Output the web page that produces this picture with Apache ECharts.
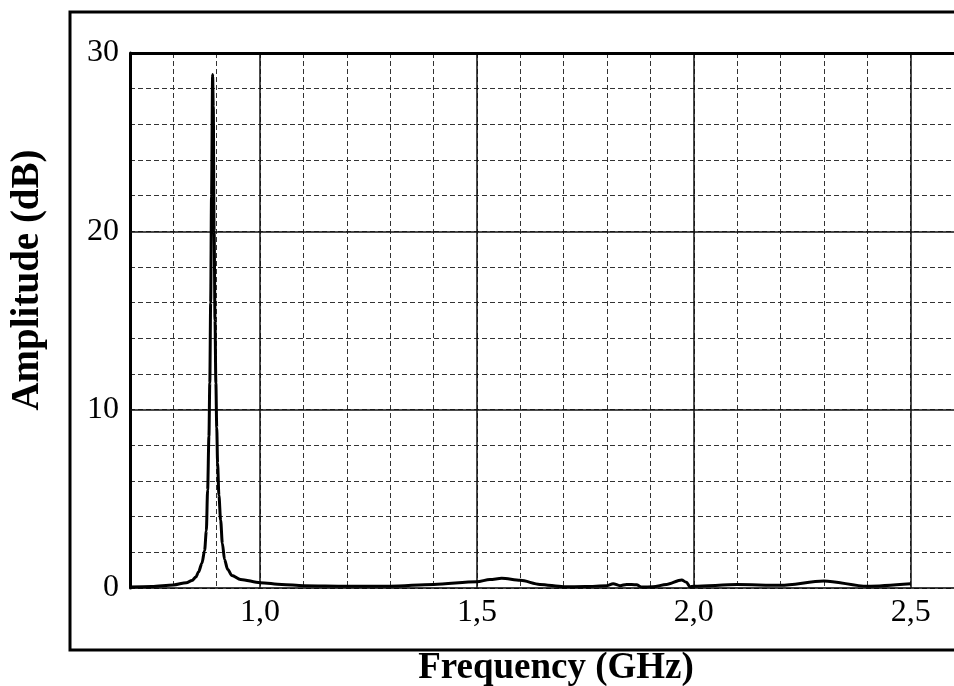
<!DOCTYPE html>
<html>
<head>
<meta charset="utf-8">
<script src="https://cdn.jsdelivr.net/npm/echarts@6/dist/echarts.min.js"></script>
<style>
  html, body { margin: 0; padding: 0; background: #fff; }
  #main { width: 954px; height: 686px; }
</style>
</head>
<body>
<div id="main"></div>
<script>
// values (GHz, dB)
const freq = [
  0.70, 0.75, 0.80, 0.83, 0.843, 0.852, 0.858, 0.866, 0.872, 0.876, 0.879,
  0.882, 0.884, 0.886, 0.888, 0.8905, 0.892, 0.894, 0.896, 0.898, 0.900,
  0.902, 0.905, 0.909, 0.913, 0.918, 0.925, 0.935, 0.955, 1.0, 1.05,
  1.1, 1.2, 1.3, 1.4, 1.5, 1.53, 1.557, 1.6, 1.645, 1.7,
  1.75, 1.8, 1.814, 1.83, 1.845, 1.868, 1.88, 1.906, 1.937, 1.972,
  1.983, 1.991, 2.0, 2.1, 2.2, 2.3, 2.4, 2.5
];
const amp = [
  0.05, 0.08, 0.17, 0.3, 0.42, 0.62, 0.9, 1.4, 2.1, 3.2, 5.5,
  8.5, 11.5, 16, 22, 28.8, 27, 20, 15, 11.5, 9,
  7, 5.2, 3.8, 2.5, 1.6, 1.05, 0.7, 0.48, 0.3, 0.2,
  0.13, 0.1, 0.1, 0.2, 0.35, 0.48, 0.54, 0.43, 0.2, 0.07,
  0.08, 0.13, 0.24, 0.13, 0.2, 0.18, 0.05, 0.07, 0.2, 0.45,
  0.32, 0.07, 0.1, 0.19, 0.15, 0.39, 0.1, 0.24
];
const xLabels = [1.0, 1.5, 2.0, 2.5];
const yLabels = [0, 10, 20, 30];
const majorX = [1.0, 1.5, 2.0, 2.5];
const majorY = [10, 20];

const serif = '"Liberation Serif", "DejaVu Serif", serif';

function isIn(list, v) {
  return list.some(l => Math.abs(l - v) < 1e-6);
}

const chart = echarts.init(document.getElementById('main'));

const option = {
  animation: false,
  backgroundColor: '#fff',
  grid: { left: 130, top: 53, right: 0, bottom: 98, containLabel: false, outerBoundsMode: 'none' },
  xAxis: {
    type: 'value',
    min: 0.7,
    max: 2.6,
    interval: 0.1,
    axisLine: { show: true, onZero: false, lineStyle: { color: '#000', width: 1.5 } },
    axisTick: { show: false },
    axisLabel: {
      color: '#000',
      fontFamily: serif,
      fontSize: 32,
      margin: 9,
      formatter: v => (isIn(xLabels, v) ? v.toFixed(1).replace('.', ',') : '')
    },
    splitLine: { show: true, lineStyle: { color: '#333', width: 1, type: [5, 3] } }
  },
  yAxis: {
    type: 'value',
    min: 0,
    max: 30,
    interval: 2,
    axisLine: { show: true, lineStyle: { color: '#000', width: 3 } },
    axisTick: { show: false },
    axisLabel: {
      color: '#000',
      fontFamily: serif,
      fontSize: 32,
      margin: 11,
      formatter: v => (isIn(yLabels, v) ? String(v) : '')
    },
    splitLine: { show: true, lineStyle: { color: '#333', width: 1, type: [5, 3] } }
  },
  series: [
    {
      type: 'line',
      data: freq.map((f, i) => [f, amp[i]]),
      showSymbol: false,
      symbol: 'none',
      smooth: 0.3,
      smoothMonotone: 'x',
      lineStyle: { color: '#000', width: 3 },
      z: 5,
      markLine: {
        silent: true,
        symbol: ['none', 'none'],
        label: { show: false },
        lineStyle: { color: '#111', width: 1.5, type: 'solid' },
        data: [
          ...majorX.map(x => ({ xAxis: x })),
          ...majorY.map(y => ({ yAxis: y })),
          { yAxis: 30, lineStyle: { color: '#000', width: 3, type: 'solid' } }
        ]
      }
    }
  ],
  graphic: [
    {
      type: 'rect',
      silent: true,
      shape: { x: 70, y: 12, width: 1000, height: 638 },
      style: { fill: 'none', stroke: '#000', lineWidth: 3 }
    },
    {
      type: 'text',
      x: 556,
      y: 668,
      style: {
        text: 'Frequency (GHz)',
        font: 'bold 37px ' + serif,
        fill: '#000',
        align: 'center',
        verticalAlign: 'middle',
        textAlign: 'center',
        textVerticalAlign: 'middle'
      }
    },
    {
      type: 'text',
      x: 28,
      y: 280,
      rotation: Math.PI / 2,
      style: {
        text: 'Amplitude (dB)',
        font: 'bold 39px ' + serif,
        fill: '#000',
        align: 'center',
        verticalAlign: 'middle',
        textAlign: 'center',
        textVerticalAlign: 'middle'
      }
    }
  ]
};

chart.setOption(option);
</script>
</body>
</html>
